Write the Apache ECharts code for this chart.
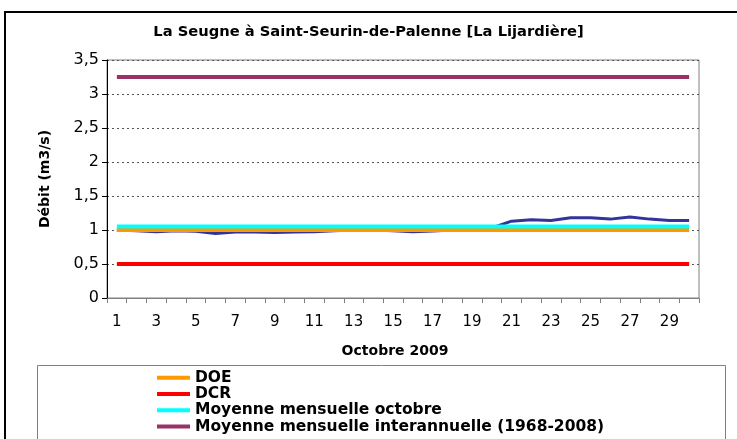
<!DOCTYPE html>
<html>
<head>
<meta charset="utf-8">
<script src="https://cdn.jsdelivr.net/npm/echarts@6/dist/echarts.min.js"></script>
<style>
  html, body { margin: 0; padding: 0; background: #fff; }
  #chart { width: 737px; height: 439px; }
</style>
</head>
<body>
<div id="chart"></div>
<script>
// jours d'octobre 2009
var days = ['1','2','3','4','5','6','7','8','9','10','11','12','13','14','15',
            '16','17','18','19','20','21','22','23','24','25','26','27','28','29','30']
// débit journalier (m3/s)
var debit = [1.00, 0.99, 0.975, 0.99, 0.98, 0.95, 0.97, 0.97, 0.965, 0.97,
             0.975, 0.99, 1.00, 1.00, 0.99, 0.975, 0.985, 1.00, 1.00, 1.03,
             1.13, 1.15, 1.14, 1.18, 1.18, 1.16, 1.19, 1.16, 1.14, 1.14]
// valeurs de référence
var DOE = 1.0
var DCR = 0.5
var MOY_OCT = 1.05
var MOY_INTER = 3.25
var yTicks = { min: 0, max: 3.5, interval: 0.5 }

var font = 'DejaVu Sans'

function flat(v){
    return [[days[0], v], [days[days.length - 1], v]]
}

var chart = echarts.init(document.getElementById('chart'))
chart.setOption({
    animation: false,
    backgroundColor: '#fff',
    title: {
        text: 'La Seugne à Saint-Seurin-de-Palenne [La Lijardière]',
        left: 'center',
        top: 20,
        textStyle: { fontFamily: font, fontSize: 14.7, fontWeight: 'bold', color: '#000' }
    },
    grid: {
        left: 107, top: 60, right: 38, bottom: 141,
        show: true, borderColor: '#808080', borderWidth: 1
    },
    legend: {
        type: 'plain',
        orient: 'vertical',
        left: 152,
        top: 364.5,
        height: 120,
        icon: 'rect',
        itemWidth: 33,
        itemHeight: 4,
        itemGap: 0,
        textStyle: { fontFamily: font, fontSize: 15.5, fontWeight: 'bold', color: '#000', lineHeight: 16.3 },
        data: ['DOE', 'DCR', 'Moyenne mensuelle octobre', 'Moyenne mensuelle interannuelle (1968-2008)']
    },
    xAxis: {
        type: 'category',
        data: days,
        boundaryGap: true,
        name: 'Octobre 2009',
        nameLocation: 'middle',
        nameGap: 46,
        nameTextStyle: { fontFamily: font, fontSize: 14, fontWeight: 'bold', color: '#000', padding: [0, 16, 0, 0] },
        axisLine: { lineStyle: { color: '#808080', width: 1 } },
        axisTick: { show: true, interval: 0, length: 5, lineStyle: { color: '#808080' } },
        axisLabel: { interval: 1, margin: 17, fontFamily: font, fontSize: 15, color: '#000' },
        splitLine: { show: false }
    },
    yAxis: {
        type: 'value',
        min: yTicks.min,
        max: yTicks.max,
        interval: yTicks.interval,
        name: 'Débit (m3/s)',
        nameLocation: 'middle',
        nameGap: 55,
        nameTextStyle: { fontFamily: font, fontSize: 14, fontWeight: 'bold', color: '#000' },
        axisLine: { show: true, lineStyle: { color: '#000', width: 1 } },
        axisTick: { show: true, length: 5, lineStyle: { color: '#000' } },
        axisLabel: {
            margin: 8, fontFamily: font, fontSize: 16, color: '#000',
            formatter: function(v){ return String(v).replace('.', ',') }
        },
        splitLine: { show: true, lineStyle: { color: '#555', type: [2, 3], width: 1 } }
    },
    series: [
        { name: 'Débit', type: 'line', data: debit, symbol: 'none', lineStyle: { color: '#333399', width: 3 }, itemStyle: { color: '#333399' } },
        { name: 'DOE', type: 'line', data: flat(DOE), symbol: 'none', lineStyle: { color: '#FF9900', width: 4 }, itemStyle: { color: '#FF9900' } },
        { name: 'DCR', type: 'line', data: flat(DCR), symbol: 'none', lineStyle: { color: '#FF0000', width: 4 }, itemStyle: { color: '#FF0000' } },
        { name: 'Moyenne mensuelle octobre', type: 'line', data: flat(MOY_OCT), symbol: 'none', lineStyle: { color: '#00FFFF', width: 4 }, itemStyle: { color: '#00FFFF' } },
        { name: 'Moyenne mensuelle interannuelle (1968-2008)', type: 'line', data: flat(MOY_INTER), symbol: 'none', lineStyle: { color: '#993366', width: 4 }, itemStyle: { color: '#993366' } }
    ],
    graphic: [
        // cadre extérieur
        { type: 'rect', shape: { x: 5, y: 12, width: 800, height: 600 }, style: { fill: 'none', stroke: '#000', lineWidth: 2 }, silent: true },
        // cadre de la légende
        { type: 'rect', shape: { x: 37.5, y: 365.5, width: 688, height: 120 }, style: { fill: 'none', stroke: '#808080', lineWidth: 1 }, silent: true }
    ]
})
</script>
</body>
</html>
